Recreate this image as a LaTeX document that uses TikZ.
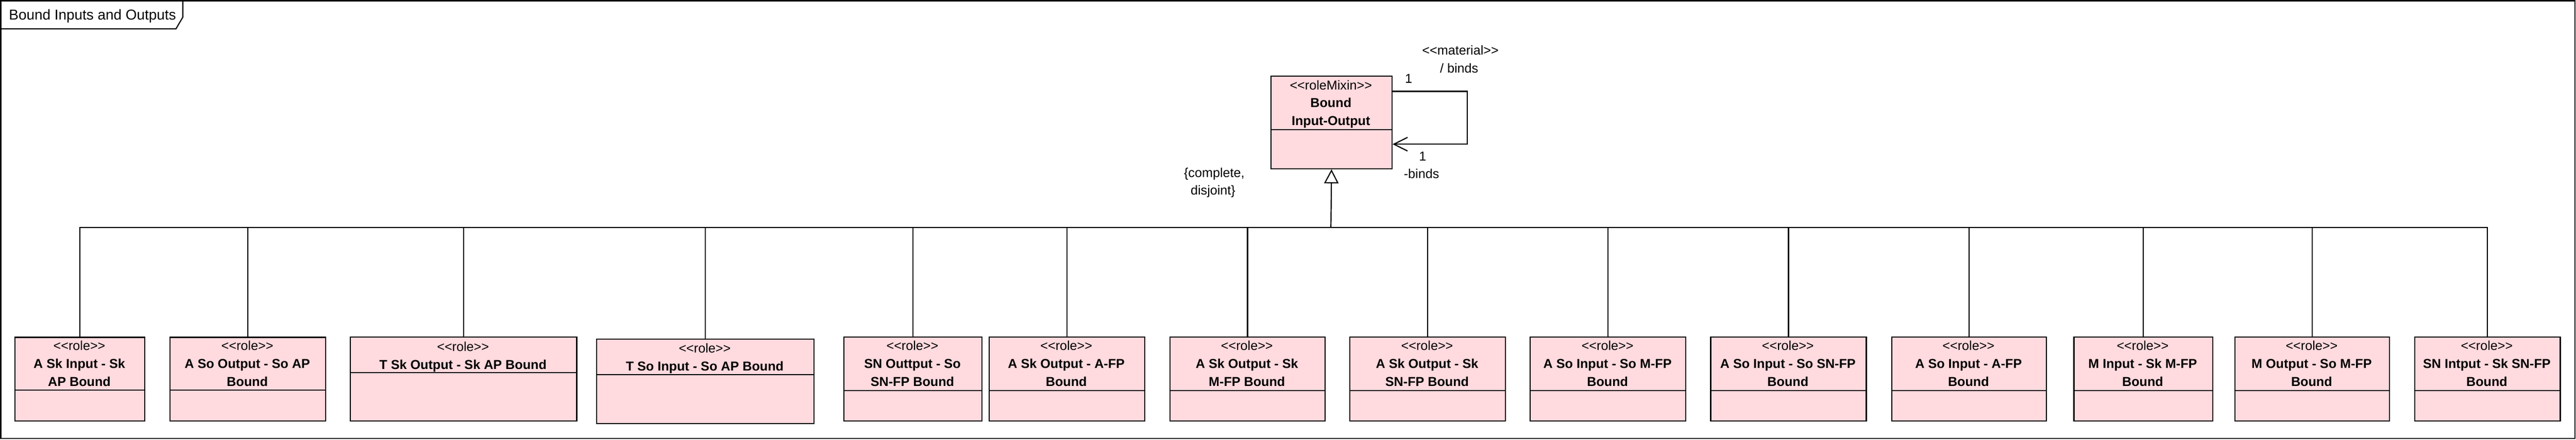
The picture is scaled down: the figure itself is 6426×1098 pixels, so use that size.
\documentclass[tikz,border=0pt]{standalone}
\usepackage{fontspec}
\setmainfont{Liberation Sans}
\usepackage{tikz}
\usetikzlibrary{arrows.meta}
\usetikzlibrary{positioning}
\usetikzlibrary{calc}
\definecolor{rolepink}{RGB}{255,218,222}
\newcommand{\gopen}{<\kern0pt<}
\newcommand{\gclose}{>\kern0pt>}
\tikzset{every picture/.style={line width=0.8pt}}

\begin{document}
\begin{tikzpicture}[x=0.01cm, y=-0.01cm,
  classbox/.style={draw, fill=rolepink, anchor=north west, inner sep=0pt},
  stereo/.style={anchor=base, inner sep=0pt, font=\fontsize{9.2}{11}\selectfont},
  cname/.style={anchor=base, inner sep=0pt, font=\fontsize{9.2}{11}\selectfont\bfseries},
  lbl/.style={anchor=base, inner sep=0pt, font=\fontsize{9.2}{11}\selectfont},
  gen/.style={-{Triangle[open,length=0.35cm,width=0.36cm]}},
  assoc/.style={-{Straight Barb[length=0.34cm,width=0.34cm]}}]
\useasboundingbox (0,0) rectangle (6426,1098);
\draw (2,2) rectangle (6423,1095);
\draw (2,72) -- (439,72) -- (456,43) -- (456,2);
\node (title) [anchor=base west, inner sep=0pt, font=\fontsize{10.2}{12}\selectfont] at (21,50) {Bound Inputs and Outputs};

\node (mixin) [classbox, minimum width=3.02cm, minimum height=2.31cm] at (3169,189) {};
\draw (3169,324) -- (3471,324);
\node (mixst) [stereo] at (3320,224) {\gopen roleMixin\gclose};
\node (mixa) [cname] at (3320,268) {Bound};
\node (mixb) [cname] at (3320,313) {Input-Output};

\draw[assoc] ([yshift=-0.39cm]mixin.north east) -- ++(186,0) |- ([yshift=-1.71cm]mixin.north east);
\node (mult1) [lbl] at (3514,208) {1};
\node (mat) [lbl] at (3643,137) {\gopen material\gclose};
\node (bnd1) [lbl] at (3640,182) {/ binds};
\node (mult2) [lbl] at (3549,402) {1};
\node (bnd2) [lbl] at (3546,445) {-binds};
\node (gset1) [lbl] at (3029,443) {\{complete,};
\node (gset2) [lbl] at (3026,487) {disjoint\}};

\coordinate (bus) at (3320,568);
\draw[gen] (bus) -- (mixin.south);

\foreach \id/\xl/\xr/\yt/\yd/\yb/\ys/\na/\nb in {
  1/36/360/841/974/1050/875/{A Sk Input - Sk}/{AP Bound},
  2/423/811/841/974/1050/875/{A So Output - So AP}/{Bound},
  3/873/1437/840/930/1050/877/{T Sk Output - Sk AP Bound}/{},
  4/1487/2029/846/936/1056/881/{T So Input - So AP Bound}/{},
  5/2104/2448/840/975/1050/875/{SN Outtput - So}/{SN-FP Bound},
  6/2466/2854/840/975/1050/875/{A Sk Output - A-FP}/{Bound},
  7/2917/3304/840/975/1050/875/{A Sk Output - Sk}/{M-FP Bound},
  8/3366/3754/840/975/1050/875/{A Sk Output - Sk}/{SN-FP Bound},
  9/3816/4204/840/975/1050/875/{A So Input - So M-FP}/{Bound},
  10/4266/4654/840/975/1050/875/{A So Input - So SN-FP}/{Bound},
  11/4718/5103/840/975/1050/875/{A So Input - A-FP}/{Bound},
  12/5172/5518/840/975/1050/875/{M Input - Sk M-FP}/{Bound},
  13/5574/5959/840/975/1050/875/{M Output - So M-FP}/{Bound},
  14/6022/6385/840/975/1050/875/{SN Intput - Sk SN-FP}/{Bound}} {
\pgfmathsetmacro\bw{(\xr-\xl)/100}
\pgfmathsetmacro\bh{(\yb-\yt)/100}
\pgfmathsetmacro\cx{(\xl+\xr)/2}
\node (r\id) [classbox, minimum width=\bw cm, minimum height=\bh cm] at (\xl,\yt) {};
\draw (\xl,\yd) -- (\xr,\yd);
\node (rs\id) [stereo] at (\cx,\ys) {\gopen role\gclose};
\node (ra\id) [cname] at (\cx,\ys+45) {\na};
\node (rb\id) [cname] at (\cx,\ys+90) {\nb};
\draw (r\id.north) |- (bus);
}
\end{tikzpicture}
\end{document}
